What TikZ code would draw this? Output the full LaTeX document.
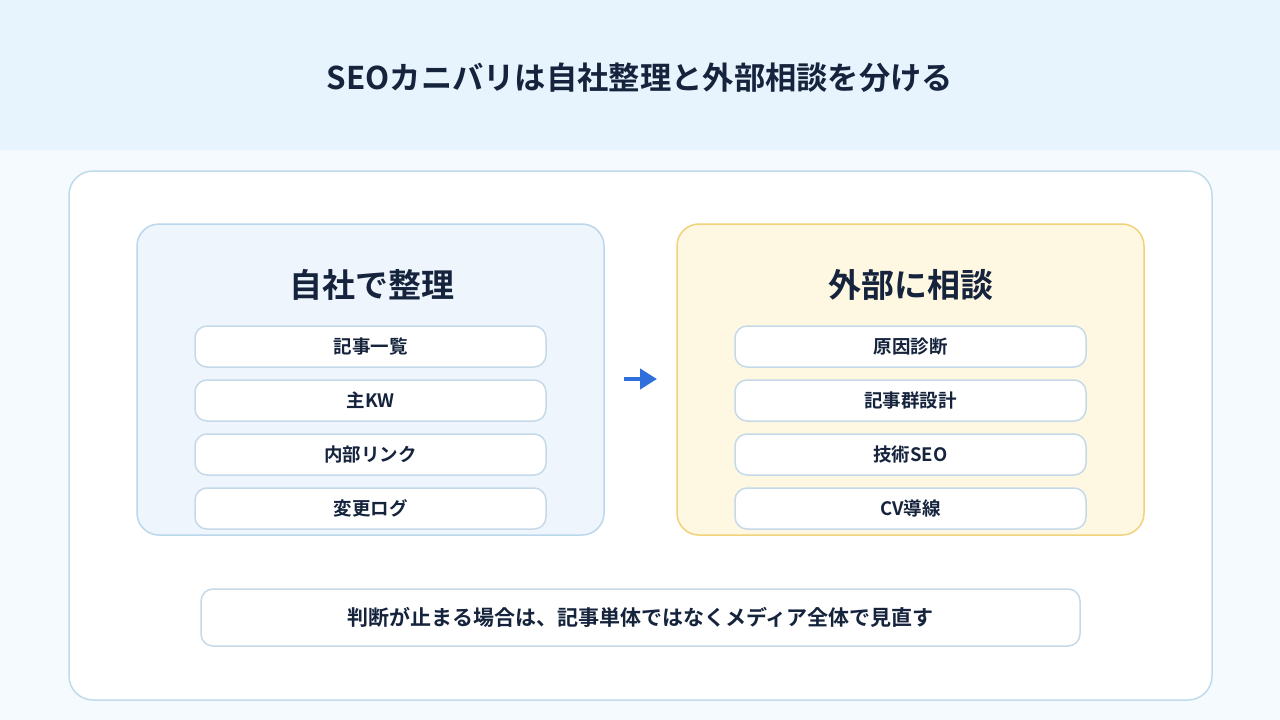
\documentclass[tikz,border=0pt]{standalone}
\usepackage{fontspec}
\setmainfont{Noto Sans CJK JP}[BoldFont={Noto Sans CJK JP Bold}]
\usetikzlibrary{arrows.meta}
\definecolor{headbg}{HTML}{E7F4FE}
\definecolor{pagebg}{HTML}{F5FAFE}
\definecolor{panelline}{HTML}{BFDAEA}
\definecolor{leftbg}{HTML}{EEF5FD}
\definecolor{leftline}{HTML}{BBD7EC}
\definecolor{rightbg}{HTML}{FEF8E3}
\definecolor{rightline}{HTML}{F0D27A}
\definecolor{itemline}{HTML}{C5D9E8}
\definecolor{ink}{HTML}{15233C}
\definecolor{arrowblue}{HTML}{2F6FDB}
\tikzset{
  panel/.style={draw=panelline, line width=1.5pt, fill=white, rounded corners=24pt},
  groupbox/.style={line width=1.5pt, rounded corners=22pt},
  itembox/.style={draw=itemline, line width=1.5pt, fill=white, rounded corners=12pt,
    minimum width=351pt, minimum height=41pt, inner sep=0pt,
    font=\fontsize{18.5}{22}\selectfont\bfseries, text=ink},
  grouptitle/.style={font=\fontsize{33}{38}\selectfont\bfseries, text=ink, inner sep=0pt},
}
\begin{document}
\begin{tikzpicture}[x=1pt,y=-1pt]
\useasboundingbox (0,0) rectangle (1280,720);
\fill[pagebg] (0,0) rectangle (1280,720);
\fill[headbg] (0,0) rectangle (1280,150);
\node[font=\fontsize{31.3}{36}\selectfont\bfseries, text=ink, inner sep=0pt] (title) at (640,78) {SEOカニバリは自社整理と外部相談を分ける};
\draw[panel] (69,171) rectangle (1212,700);
% left group
\draw[groupbox, draw=leftline, fill=leftbg] (137,224) rectangle (604,535);
\node[grouptitle] (lt) at (371.5,285) {自社で整理};
\node[itembox] (l1) at (370.5,346.5) {記事一覧};
\node[itembox] (l2) at (370.5,400.5) {主KW};
\node[itembox] (l3) at (370.5,454.5) {内部リンク};
\node[itembox] (l4) at (370.5,508.5) {変更ログ};
% right group
\draw[groupbox, draw=rightline, fill=rightbg] (677,224) rectangle (1144,535);
\node[grouptitle] (rt) at (910.5,285) {外部に相談};
\node[itembox] (r1) at (910.5,346.5) {原因診断};
\node[itembox] (r2) at (910.5,400.5) {記事群設計};
\node[itembox] (r3) at (910.5,454.5) {技術SEO};
\node[itembox] (r4) at (910.5,508.5) {CV導線};
% arrow
\coordinate (as) at (624,379);
\coordinate (ae) at (657,379);
\draw[arrowblue, line width=4.5pt, -{Triangle[length=17pt,width=20pt]}] (as) -- (ae);
% bottom note
\node[itembox, minimum width=879pt, minimum height=57pt, font=\fontsize{21}{24}\selectfont\bfseries] (note) at (640.5,617.5) {判断が止まる場合は、記事単体ではなくメディア全体で見直す};
\end{tikzpicture}
\end{document}
